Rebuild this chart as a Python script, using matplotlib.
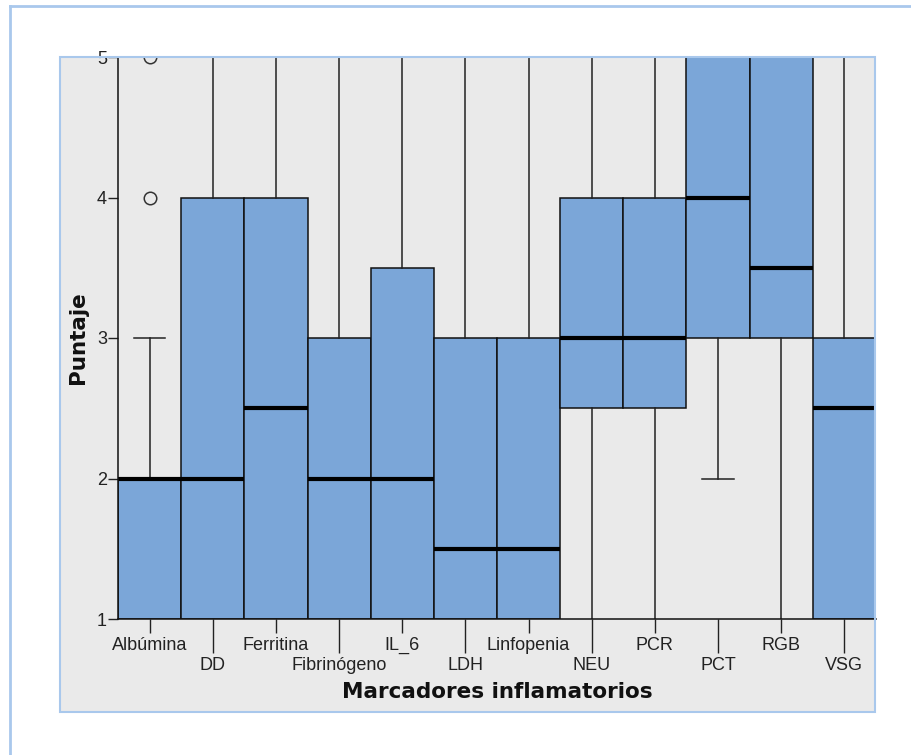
import matplotlib.pyplot as plt
from matplotlib.patches import Rectangle
from matplotlib.lines import Line2D
from matplotlib.ticker import FixedLocator

plt.rcParams['font.family'] = ['Liberation Sans', 'DejaVu Sans']

marcadores = ['Albúmina', 'DD', 'Ferritina', 'Fibrinógeno', 'IL_6', 'LDH',
              'Linfopenia', 'NEU', 'PCR', 'PCT', 'RGB', 'VSG']
minimo = [1, 1, 1, 1, 1, 1, 1, 1, 1, 2, 1, 1]
q1 = [1, 1, 1, 1, 1, 1, 1, 2.5, 2.5, 3, 3, 1]
mediana = [2, 2, 2.5, 2, 2, 1.5, 1.5, 3, 3, 4, 3.5, 2.5]
q3 = [2, 4, 4, 3, 3.5, 3, 3, 4, 4, 5, 5, 3]
maximo = [3, 5, 5, 5, 5, 5, 5, 5, 5, 5, 5, 5]
atipicos = [[4, 5], [], [], [], [], [], [], [], [], [], [], []]

azul = '#7ba6d8'
gris = '#eaeaea'
marco = '#a9c8ec'

fig = plt.figure(figsize=(9.12, 7.55), dpi=100)
W, H = 912, 755

# fondo gris del grafico (por detras de los ejes)
caja = ((60 / W, 1 - 712 / H), (875 - 60) / W, (712 - 57) / H)
fig.patches.append(Rectangle(*caja, transform=fig.transFigure, facecolor=gris,
                             edgecolor='none', zorder=-10))
fig.lines.append(Line2D([10 / W, 1.0], [1 - 6 / H, 1 - 6 / H], transform=fig.transFigure,
                        color=marco, lw=2, zorder=-10))
fig.lines.append(Line2D([10 / W, 10 / W], [0, 1 - 6 / H], transform=fig.transFigure,
                        color=marco, lw=2, zorder=-10))

ax = fig.add_axes([118 / W, 1 - 619 / H, (876 - 118) / W, (619 - 57) / H])
ax.set_zorder(1)
ax.set_facecolor('none')

stats = []
for i, nombre in enumerate(marcadores):
    stats.append(dict(label=nombre, whislo=minimo[i], q1=q1[i], med=mediana[i],
                      q3=q3[i], whishi=maximo[i], fliers=atipicos[i]))

pos = list(range(1, len(marcadores) + 1))
bp = ax.bxp(stats, positions=pos, widths=1.0, patch_artist=True, capwidths=0.5,
            boxprops=dict(facecolor=azul, edgecolor='#111111', lw=1.1),
            medianprops=dict(color='black', lw=3.0, solid_capstyle='butt'),
            whiskerprops=dict(color='#222222', lw=1.1),
            capprops=dict(color='#222222', lw=1.1),
            flierprops=dict(marker='o', markersize=9, markerfacecolor='none',
                            markeredgecolor='#333333', markeredgewidth=1.1))
for f in bp['fliers']:
    f.set_clip_on(True)

ax.set_xlim(0.5, 12.5)
ax.set_ylim(1, 5)

# los bigotes que llegan al borde no llevan tope visible
for cap in bp['caps']:
    if cap.get_ydata()[0] in (1, 5):
        cap.set_visible(False)

for s in ['top', 'right']:
    ax.spines[s].set_visible(False)
for s in ['left', 'bottom']:
    ax.spines[s].set_color('#111111')
    ax.spines[s].set_linewidth(1.1)

ax.set_yticks([1, 2, 3, 4, 5])
ax.set_yticklabels(['1', '2', '3', '4', '5'])
ax.tick_params(axis='y', length=7, width=1, color='#222222', pad=1,
               labelsize=13, labelcolor='#222222')

# etiquetas alternadas en dos filas
ax.xaxis.set_major_locator(FixedLocator(pos[0::2]))
ax.xaxis.set_minor_locator(FixedLocator(pos[1::2]))
ax.set_xticklabels(marcadores[0::2])
ax.set_xticklabels(marcadores[1::2], minor=True)
ax.tick_params(axis='x', which='major', length=10, width=1, color='#222222',
               pad=3, labelsize=13, labelcolor='#222222')
ax.tick_params(axis='x', which='minor', length=24.5, width=1, color='#222222',
               pad=2.5, labelsize=13, labelcolor='#222222')

# borde azul claro del grafico, encima de las cajas
fig.patches.append(Rectangle(*caja, transform=fig.transFigure, facecolor='none',
                             edgecolor=marco, lw=1.5, zorder=5))

fig.text(497 / W, 1 - 692 / H, 'Marcadores inflamatorios', ha='center', va='center',
         fontsize=15.5, fontweight='bold', family=['DejaVu Sans'], color='#111111')
fig.text(78 / W, 1 - 338 / H, 'Puntaje', ha='center', va='center', rotation=90,
         fontsize=15.5, fontweight='bold', family=['DejaVu Sans'], color='#111111')

fig.savefig('out.png', dpi=100)
